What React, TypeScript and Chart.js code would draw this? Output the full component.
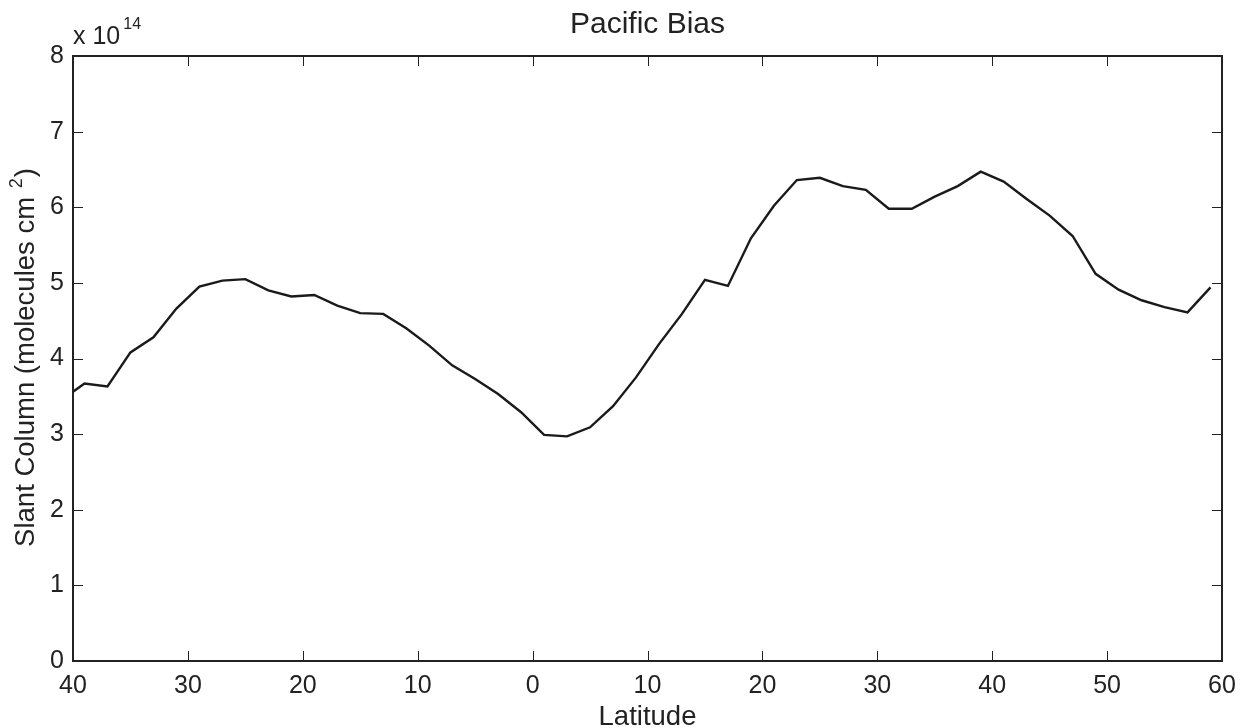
import React, { useEffect, useRef } from "react";
import { Chart, registerables } from "chart.js";

Chart.register(...registerables);

// Latitude (degrees; negative = south) and slant column values (x 10^14 molecules cm^-2)
const latitudes = [
  -41, -39, -37, -35, -33, -31, -29, -27, -25, -23, -21, -19, -17, -15, -13, -11, -9, -7, -5, -3, -1,
  1, 3, 5, 7, 9, 11, 13, 15, 17, 19, 21, 23, 25, 27, 29, 31, 33, 35, 37, 39, 41, 43, 45, 47, 49, 51,
  53, 55, 57, 59,
];
const slantColumn = [
  3.45, 3.67, 3.63, 4.08, 4.28, 4.66, 4.95, 5.03, 5.05, 4.9, 4.82, 4.84, 4.7, 4.6, 4.59, 4.4, 4.17,
  3.91, 3.73, 3.53, 3.29, 2.99, 2.97, 3.09, 3.37, 3.75, 4.19, 4.59, 5.04, 4.96, 5.59, 6.02, 6.36,
  6.39, 6.28, 6.23, 5.98, 5.98, 6.14, 6.28, 6.47, 6.34, 6.11, 5.89, 5.62, 5.12, 4.91, 4.77, 4.68,
  4.61, 4.94,
];
const xTicks = [-40, -30, -20, -10, 0, 10, 20, 30, 40, 50, 60];
const yTicks = [0, 1, 2, 3, 4, 5, 6, 7, 8];
const exponent = "14";
const titleText = "Pacific Bias";
const xLabel = "Latitude";
const yLabelMain = "Slant Column (molecules cm ";
const yLabelSup = "2";
const yLabelEnd = ")";

const FONT = '"Liberation Sans", Arial, Helvetica, sans-serif';
const INK = "#222222";

const decorPlugin = {
  id: "matlabDecor",
  afterDraw(chart: any) {
    const { ctx, chartArea } = chart;
    const { left, right, top, bottom } = chartArea;
    const xs = chart.scales.x;
    const ys = chart.scales.y;
    ctx.save();
    ctx.strokeStyle = INK;
    // inward ticks on all four sides
    ctx.lineWidth = 1;
    const tl = 10;
    ctx.beginPath();
    xTicks.forEach((v) => {
      const px = Math.round(xs.getPixelForValue(v)) + 0.5;
      ctx.moveTo(px, bottom);
      ctx.lineTo(px, bottom - tl);
      ctx.moveTo(px, top);
      ctx.lineTo(px, top + tl);
    });
    yTicks.forEach((v) => {
      const py = Math.round(ys.getPixelForValue(v)) + 0.5;
      ctx.moveTo(left, py);
      ctx.lineTo(left + tl, py);
      ctx.moveTo(right, py);
      ctx.lineTo(right - tl, py);
    });
    ctx.stroke();
    // frame
    ctx.lineWidth = 2;
    ctx.strokeRect(left, top, right - left, bottom - top);

    ctx.fillStyle = INK;
    ctx.textBaseline = "alphabetic";
    // title
    ctx.font = `30px ${FONT}`;
    ctx.textAlign = "center";
    ctx.fillText(titleText, (left + right) / 2, 33);
    // x label
    ctx.font = `27.5px ${FONT}`;
    ctx.fillText(xLabel, (left + right) / 2, 725);
    // exponent
    ctx.textAlign = "left";
    ctx.font = `25px ${FONT}`;
    const base = "x 10";
    ctx.fillText(base, left, 44);
    const bw = ctx.measureText(base).width;
    ctx.font = `16px ${FONT}`;
    ctx.fillText(exponent, left + bw + 3, 29);
    // y label (rotated)
    ctx.save();
    ctx.translate(34, (top + bottom) / 2);
    ctx.rotate(-Math.PI / 2);
    ctx.font = `27.5px ${FONT}`;
    const w1 = ctx.measureText(yLabelMain).width;
    const w3 = ctx.measureText(yLabelEnd).width;
    ctx.font = `18px ${FONT}`;
    const w2 = ctx.measureText(yLabelSup).width;
    const start = -(w1 + w2 + w3) / 2;
    ctx.font = `27.5px ${FONT}`;
    ctx.fillText(yLabelMain, start, 0);
    ctx.fillText(yLabelEnd, start + w1 + w2 + 2, 0);
    ctx.font = `18px ${FONT}`;
    ctx.fillText(yLabelSup, start + w1 + 1, -12);
    ctx.restore();
    ctx.restore();
  },
};

export default function App() {
  const ref = useRef<HTMLCanvasElement>(null);
  useEffect(() => {
    if (!ref.current) return;
    const chart = new Chart(ref.current, {
      type: "line",
      data: {
        datasets: [
          {
            data: latitudes.map((x, i) => ({ x, y: slantColumn[i] })),
            borderColor: "#1a1a1a",
            borderWidth: 2.4,
            pointRadius: 0,
            tension: 0,
            fill: false,
            clip: 0,
          } as any,
        ],
      },
      options: {
        responsive: false,
        animation: false,
        devicePixelRatio: 1,
        layout: { padding: { top: 56, right: 24, bottom: 0, left: 0 } },
        plugins: { legend: { display: false }, tooltip: { enabled: false }, title: { display: false } },
        scales: {
          x: {
            type: "linear",
            min: -40,
            max: 60,
            afterFit: (s: any) => {
              s.height = 67;
            },
            afterBuildTicks: (s: any) => {
              s.ticks = xTicks.map((v) => ({ value: v }));
            },
            grid: { display: false, drawTicks: false },
            border: { display: false },
            ticks: {
              padding: 10,
              color: INK,
              font: { family: FONT, size: 25 },
              maxRotation: 0,
              autoSkip: false,
              callback: (v: any) => String(Math.abs(Number(v))),
            },
          },
          y: {
            type: "linear",
            min: 0,
            max: 8,
            afterFit: (s: any) => {
              s.width = 73;
            },
            afterBuildTicks: (s: any) => {
              s.ticks = yTicks.map((v) => ({ value: v }));
            },
            grid: { display: false, drawTicks: false },
            border: { display: false },
            ticks: {
              padding: 9,
              color: INK,
              font: { family: FONT, size: 25 },
              autoSkip: false,
              callback: (v: any) => String(v),
            },
          },
        },
      },
      plugins: [decorPlugin],
    });
    return () => chart.destroy();
  }, []);
  return (
    <canvas
      ref={ref}
      width={1246}
      height={728}
      style={{ position: "absolute", left: 0, top: 0, display: "block", background: "#fff" }}
    />
  );
}
